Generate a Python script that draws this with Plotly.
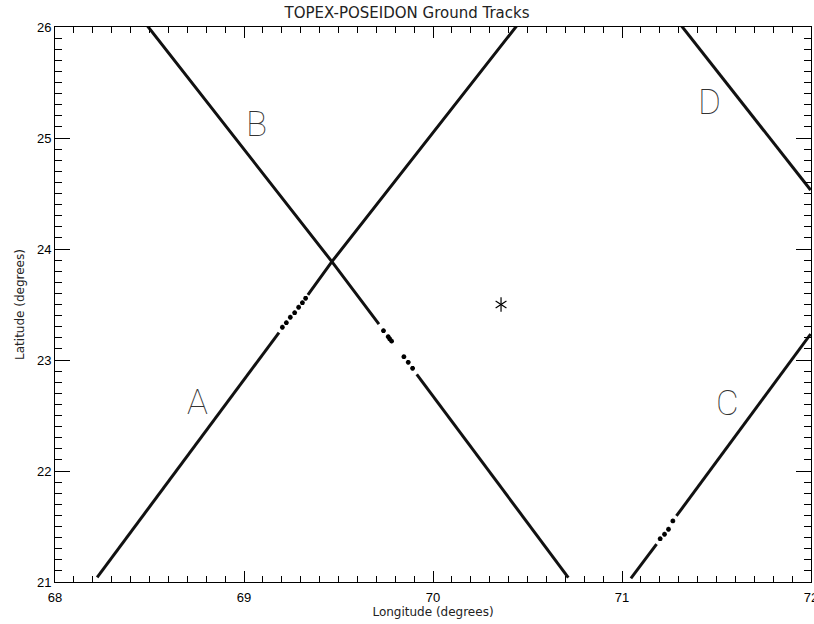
import plotly.graph_objects as go

# ground track pieces (lon, lat)
# dense runs of samples are drawn as lines, sparse samples as single markers
a_dense1_lon = [68.223, 69.185]
a_dense1_lat = [21.042, 23.246]
a_sparse_lon = [69.203, 69.224, 69.245, 69.268, 69.289, 69.309, 69.326]
a_sparse_lat = [23.295, 23.336, 23.385, 23.426, 23.475, 23.516, 23.556]
a_dense2_lon = [69.338, 69.465, 70.452]
a_dense2_lat = [23.586, 23.886, 26.030]

b_dense1_lon = [68.481, 69.465, 69.714]
b_dense1_lat = [26.027, 23.886, 23.324]
b_sparse_lon = [69.738, 69.763, 69.771, 69.781, 69.846, 69.869, 69.892]
b_sparse_lat = [23.264, 23.210, 23.190, 23.170, 23.030, 22.979, 22.925]
b_dense2_lon = [69.914, 70.716]
b_dense2_lat = [22.871, 21.040]

c_dense1_lon = [71.047, 71.183]
c_dense1_lat = [21.033, 21.342]
c_sparse_lon = [71.202, 71.225, 71.246, 71.269]
c_sparse_lat = [21.390, 21.430, 21.475, 21.550]
c_dense2_lon = [71.288, 71.998]
c_dense2_lat = [21.595, 23.234]

d_dense_lon = [71.311, 71.998]
d_dense_lat = [26.018, 24.532]

site_lon = [70.36]
site_lat = [23.50]

labels = ["A", "B", "C", "D"]
label_lon = [68.756, 69.067, 71.556, 71.461]
label_lat = [22.613, 25.120, 22.606, 25.318]

fig = go.Figure()

dense = [
    (a_dense1_lon, a_dense1_lat), (a_dense2_lon, a_dense2_lat),
    (b_dense1_lon, b_dense1_lat), (b_dense2_lon, b_dense2_lat),
    (c_dense1_lon, c_dense1_lat), (c_dense2_lon, c_dense2_lat),
    (d_dense_lon, d_dense_lat),
]
for lon, lat in dense:
    fig.add_trace(go.Scatter(x=lon, y=lat, mode="lines",
                             line=dict(color="#111111", width=3),
                             showlegend=False, hoverinfo="skip"))

sparse = [(a_sparse_lon, a_sparse_lat), (b_sparse_lon, b_sparse_lat),
          (c_sparse_lon, c_sparse_lat)]
for lon, lat in sparse:
    fig.add_trace(go.Scatter(x=lon, y=lat, mode="markers",
                             marker=dict(symbol="asterisk-open", size=4,
                                         color="black",
                                         line=dict(color="black", width=1.5)),
                             showlegend=False, hoverinfo="skip"))

# six-armed IDL style asterisk for the site
for sym in ["y-up-open", "y-down-open"]:
    fig.add_trace(go.Scatter(x=site_lon, y=site_lat, mode="markers",
                             marker=dict(symbol=sym, size=9, color="black",
                                         line=dict(color="black", width=1.2)),
                             showlegend=False, hoverinfo="skip"))

for t, x, y in zip(labels, label_lon, label_lat):
    fig.add_annotation(x=x, y=y, text=t, showarrow=False,
                       font=dict(family="Roboto", size=35, color="#333333",
                                 weight=100))

axis_common = dict(
    showline=True, linecolor="black", linewidth=1, mirror="ticks",
    ticks="inside", tickcolor="black", tickwidth=1,
    showgrid=False, zeroline=False, automargin=False,
    ticklabeloverflow="allow",
    tickfont=dict(family="Liberation Sans", size=13, color="black"),
)

fig.update_xaxes(range=[68, 72], tickmode="linear", tick0=68, dtick=1,
                 ticklen=11, ticklabelstandoff=3,
                 minor=dict(tickmode="linear", tick0=68, dtick=0.1,
                            ticklen=6, ticks="inside", tickwidth=1,
                            tickcolor="black", showgrid=False),
                 title=dict(text="Longitude (degrees)", standoff=4,
                            font=dict(family="DejaVu Sans", size=12,
                                      color="#222222")),
                 **axis_common)
fig.update_yaxes(range=[21, 26], tickmode="linear", tick0=21, dtick=1,
                 ticklen=15,
                 minor=dict(tickmode="linear", tick0=21, dtick=0.1,
                            ticklen=7, ticks="inside", tickwidth=1,
                            tickcolor="black", showgrid=False),
                 title=dict(text="Latitude (degrees)", standoff=9,
                            font=dict(family="DejaVu Sans", size=12,
                                      color="#222222")),
                 **axis_common)

fig.update_layout(
    width=814, height=624,
    margin=dict(l=55, r=3, t=27, b=42),
    paper_bgcolor="white", plot_bgcolor="white",
    title=dict(text="TOPEX-POSEIDON Ground Tracks", x=0.5, xanchor="center",
               y=0.979, yanchor="middle",
               font=dict(family="DejaVu Sans", size=15, color="#222222")),
)

# drop the default page margin so the figure sits at the window corner
fig.write_html("out.html", config={"displayModeBar": False},
               post_script="document.body.style.margin='0';"
                           "document.body.style.overflow='hidden';")
